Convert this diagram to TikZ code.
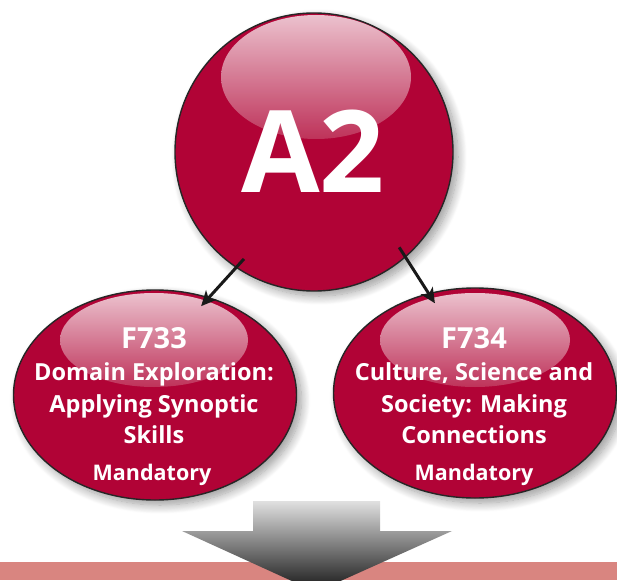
\documentclass[tikz,border=0pt]{standalone}
\usepackage{fontspec}
\setmainfont{Open Sans}
\usetikzlibrary{arrows.meta,shapes.geometric,shadows.blur}
\definecolor{crimson}{HTML}{B10336}
\definecolor{glosstop}{HTML}{F2D6DE}
\definecolor{glossbot}{HTML}{C0385E}
\definecolor{band}{HTML}{D98580}
\begin{document}
\begin{tikzpicture}[
    x=1pt, y=-1pt,
    bubble/.style={draw=black!85, line width=1.4pt, fill=crimson,
        blur shadow={shadow xshift=5pt, shadow yshift=-5pt, shadow blur steps=12, shadow blur radius=9pt}},
    unit/.style={bubble, ellipse, minimum width=283pt, minimum height=210pt},
    gloss/.style={top color=glosstop, bottom color=glossbot, opacity=0.9},
    arrow/.style={-{Stealth[length=15pt,width=14pt,inset=4pt]}, line width=3pt, black!90,
        shorten <=-12pt, shorten >=-12pt},
    code/.style={text=white, anchor=base, font=\bfseries\fontsize{29}{29}\selectfont},
    title/.style={text=white, anchor=base, align=center, font=\bfseries\fontsize{23.5}{31.5}\selectfont},
    status/.style={text=white, anchor=base, font=\bfseries\fontsize{21.5}{21.5}\selectfont}
]
    \useasboundingbox (0,0) rectangle (617,580);
    \clip (0,0) rectangle (617,580);

    % bottom band and arrow
    \fill[band] (0,562) rectangle (617,580);
    \shade[top color=black!12, bottom color=black!92]
        (253,501) -- (380,501) -- (380,531) -- (452,531) -- (316,592)
        -- (182,531) -- (253,531) -- cycle;

    % units
    \node[unit] (f733) at (155,395) {};
    \node[unit] (f734) at (475,393) {};
    \shade[gloss] (154,340) ellipse [x radius=94, y radius=47];
    \shade[gloss] (475,340) ellipse [x radius=95, y radius=47];

    % level
    \node[bubble, circle, minimum size=278pt] (level) at (314,152) {};
    \shade[gloss] (316,77) ellipse [x radius=95, y radius=62];
    \node[text=white, anchor=base, font=\bfseries\fontsize{114}{114}\selectfont] (a2) at (313,192) {A2};

    \draw[arrow] (level.236) -- (f733.61);
    \draw[arrow] (level.311) -- (f734.115);

    % labels (multi-line nodes sit on their last baseline)
    \node[code] (c733) at (154,348) {F733};
    \node[title] (t733) at (154,443.5) {Domain Exploration:\\Applying Synoptic\\Skills};
    \node[status] (m733) at (152,480) {Mandatory};

    \node[code] (c734) at (474,348) {F734};
    \node[title] (t734) at (474,443.5) {Culture, Science and\\Society: Making\\Connections};
    \node[status] (m734) at (474,480) {Mandatory};
\end{tikzpicture}
\end{document}
